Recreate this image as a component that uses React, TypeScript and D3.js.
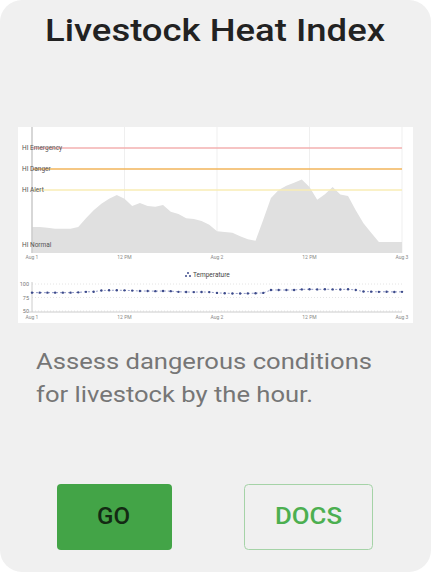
import React from "react";
import * as d3 from "d3";

// hourly values, Aug 1 00:00 -> Aug 3 00:00
const heatIndex = [
  66.2, 66.2, 66, 65.8, 65.8, 65.8, 66.2, 68.3, 70.2, 71.7, 72.9, 73.8, 72.9,
  71.2, 71.9, 71.2, 71, 71.4, 69.8, 69.3, 68.3, 68.1, 67.6, 66.7, 65.2, 65,
  64.8, 64, 63.3, 62.9, 67.9, 73.1, 75, 76, 76.7, 77.5, 75.7, 72.7, 74, 75.7,
  73.9, 73.6, 70.2, 67.1, 64.8, 62.6, 62.6, 62.6, 62.6,
];
const temperature = [
  84, 84, 84, 84, 84, 84, 84.5, 85.5, 85.7, 88, 88.3, 88.5, 88.2, 87.8, 87, 87,
  86.8, 87, 86.8, 85.5, 85.2, 85, 85.2, 85, 83.5, 83, 82.5, 82.4, 82.6, 83,
  83.5, 88.8, 89, 88.8, 89, 90, 90.2, 90, 90.3, 90, 89.8, 90.2, 89, 86, 85.8,
  85.5, 85.7, 85.3, 85.5,
];
const thresholdNames = ["HI Emergency", "HI Danger", "HI Alert", "HI Normal"];
const thresholdValues = [85, 80, 75, 62];
const thresholdColors = ["#f3b0b0", "#f2b45a", "#f8ecb4", null];
const tempTicks = [50, 75, 100];

const start = new Date(2021, 7, 1, 0);
const times = heatIndex.map((_, i) => d3.timeHour.offset(start, i));

const fmtTick = (d: Date) =>
  d.getHours() === 0 ? d3.timeFormat("Aug %-d")(d) : "12 PM";

const App = () => {
  const x = d3
    .scaleTime()
    .domain([start, times[times.length - 1]])
    .range([32, 402]);
  const y = d3.scaleLinear().domain([60, 90]).range([253, 127]);
  const yT = d3.scaleLinear().domain([50, 100]).range([311, 284]);
  const ticks = x.ticks(d3.timeHour.every(12));

  const area = d3
    .area<number>()
    .x((d, i) => x(times[i]))
    .y0(y(60))
    .y1((d) => y(d));

  const line = d3
    .line<number>()
    .x((d, i) => x(times[i]))
    .y((d) => yT(d));

  return (
    <svg
      width={431}
      height={572}
      style={{ position: "absolute", left: 0, top: 0 }}
      fontFamily="Roboto, sans-serif"
    >
      <rect x={0} y={0} width={431} height={572} rx={22} fill="#f0f0f0" />
      <text
        x={45}
        y={41}
        fontSize={31.5}
        fontWeight={500}
        fill="#222"
        textLength={340}
        lengthAdjust="spacingAndGlyphs"
      >
        Livestock Heat Index
      </text>

      {/* chart image */}
      <rect x={18} y={127} width={395} height={196} fill="#fff" />

      {/* heat index chart */}
      {ticks.map((t, i) => (
        <line
          key={"g" + i}
          x1={x(t)}
          x2={x(t)}
          y1={127}
          y2={253}
          stroke="#efefef"
        />
      ))}
      <path d={area(heatIndex) || ""} fill="#e0e0e0" />
      {thresholdValues.map((v, i) =>
        thresholdColors[i] ? (
          <line
            key={"th" + i}
            x1={32}
            x2={402}
            y1={y(v)}
            y2={y(v)}
            stroke={thresholdColors[i]!}
            strokeWidth={1.5}
          />
        ) : null
      )}
      <line x1={32} x2={32} y1={127} y2={253} stroke="#ccc" strokeWidth={1.5} />
      {thresholdNames.map((n, i) => (
        <text
          key={"tl" + i}
          x={22}
          y={y(thresholdValues[i]) + 2}
          fontSize={6.5}
          fill="#555"
        >
          {n}
        </text>
      ))}
      {ticks.map((t, i) => (
        <text
          key={"xt" + i}
          x={x(t)}
          y={259}
          textAnchor="middle"
          fontSize={5}
          fill="#888"
        >
          {fmtTick(t)}
        </text>
      ))}

      {/* temperature chart */}
      <g transform="translate(188,275)">
        <circle cx={0} cy={-2} r={1} fill="#3c4a8a" />
        <circle cx={-2} cy={1} r={1} fill="#3c4a8a" />
        <circle cx={2} cy={1} r={1} fill="#3c4a8a" />
        <text x={5} y={2} fontSize={6.5} fill="#444">
          Temperature
        </text>
      </g>
      {tempTicks.map((t, i) => (
        <g key={"yt" + i}>
          <line
            x1={32}
            x2={402}
            y1={yT(t)}
            y2={yT(t)}
            stroke="#e4e4e4"
            strokeDasharray="1,2"
          />
          <text
            x={29}
            y={yT(t) + 2}
            textAnchor="end"
            fontSize={5.5}
            fill="#777"
          >
            {t}
          </text>
        </g>
      ))}
      <line x1={28} x2={402} y1={312} y2={312} stroke="#ccc" />
      <line x1={32} x2={32} y1={282} y2={312} stroke="#ccc" />
      <path
        d={line(temperature) || ""}
        fill="none"
        stroke="#7a84bb"
        strokeWidth={0.8}
        strokeDasharray="2,2"
      />
      {temperature.map((v, i) => (
        <circle
          key={"p" + i}
          cx={x(times[i])}
          cy={yT(v)}
          r={1.2}
          fill="#3c4a8a"
        />
      ))}
      {ticks.map((t, i) => (
        <text
          key={"xb" + i}
          x={x(t)}
          y={319}
          textAnchor="middle"
          fontSize={5}
          fill="#888"
        >
          {fmtTick(t)}
        </text>
      ))}

      <text
        x={36}
        y={369}
        fontSize={22.5}
        fill="#767676"
        textLength={336}
        lengthAdjust="spacingAndGlyphs"
      >
        Assess dangerous conditions
      </text>
      <text
        x={36}
        y={402}
        fontSize={22.5}
        fill="#767676"
        textLength={277}
        lengthAdjust="spacingAndGlyphs"
      >
        for livestock by the hour.
      </text>

      <rect x={57} y={484} width={115} height={66} rx={4} fill="#43a447" />
      <text
        x={97}
        y={523.5}
        fontSize={23}
        fontWeight={500}
        fill="#132a13"
        textLength={33}
        lengthAdjust="spacingAndGlyphs"
      >
        GO
      </text>
      <rect
        x={244.5}
        y={484.5}
        width={128}
        height={65}
        rx={4}
        fill="none"
        stroke="#a5d3a7"
      />
      <text
        x={275}
        y={523.5}
        fontSize={23}
        fontWeight={500}
        fill="#4caf50"
        textLength={67}
        lengthAdjust="spacingAndGlyphs"
      >
        DOCS
      </text>
    </svg>
  );
};

export default App;
